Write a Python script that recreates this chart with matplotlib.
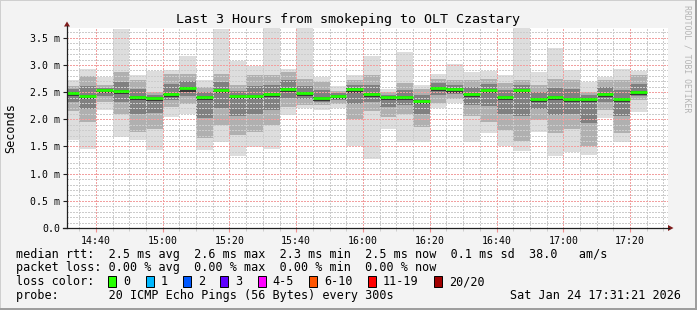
import numpy as np
import pandas as pd
import matplotlib
matplotlib.use("Agg")
import matplotlib.pyplot as plt
import matplotlib.dates as mdates
from matplotlib.patches import Rectangle, Polygon
from matplotlib.lines import Line2D
from matplotlib.ticker import MultipleLocator, FixedLocator, FuncFormatter

plt.rcParams['font.family'] = 'DejaVu Sans Mono'

# 5 minute slots (start of each ping round)
slots = pd.date_range("2026-01-24 14:30", periods=35, freq="5min")
view_start = pd.Timestamp("2026-01-24 14:31:21")
view_end = pd.Timestamp("2026-01-24 17:31:21")

# median rtt per slot, ms
median = [2.49, 2.43, 2.54, 2.52, 2.41, 2.39, 2.47, 2.57, 2.41, 2.54,
          2.43, 2.43, 2.47, 2.56, 2.49, 2.39, 2.43, 2.55, 2.47, 2.41,
          2.41, 2.34, 2.58, 2.55, 2.47, 2.54, 2.41, 2.54, 2.38, 2.41,
          2.38, 2.38, 2.47, 2.37, 2.50]
# smoke: lowest / lower band / upper band / highest ping, ms
smoke_min = [1.62, 1.45, 2.17, 1.68, 1.62, 1.43, 2.04, 2.10, 1.43, 1.59,
             1.33, 1.49, 1.46, 2.08, 2.20, 2.17, 2.21, 1.51, 1.27, 1.82,
             1.59, 1.59, 2.21, 2.30, 1.59, 1.75, 1.50, 1.42, 1.77, 1.33,
             1.40, 1.35, 2.03, 1.59, 2.14]
smoke_lo = [2.15, 1.95, 2.32, 2.10, 1.77, 1.83, 2.23, 2.29, 1.65, 1.89,
            1.71, 1.77, 1.89, 2.23, 2.26, 2.26, 2.29, 2.00, 2.15, 2.05,
            2.10, 1.85, 2.30, 2.38, 2.07, 1.95, 1.80, 1.60, 1.99, 1.75,
            1.83, 1.50, 2.17, 1.74, 2.35]
smoke_hi = [2.62, 2.80, 2.63, 2.87, 2.72, 2.50, 2.84, 2.84, 2.60, 2.84,
            2.63, 2.81, 2.81, 2.87, 2.75, 2.69, 2.53, 2.72, 2.81, 2.50,
            2.66, 2.55, 2.75, 2.72, 2.72, 2.75, 2.66, 2.72, 2.63, 2.75,
            2.72, 2.51, 2.72, 2.72, 2.81]
smoke_max = [2.72, 2.92, 2.78, 3.67, 2.82, 2.89, 2.90, 3.17, 2.72, 3.66,
             3.07, 2.98, 3.68, 2.93, 3.68, 2.78, 2.61, 2.81, 3.17, 2.56,
             3.23, 2.63, 2.84, 3.01, 2.87, 2.89, 2.82, 3.68, 2.87, 3.31,
             2.90, 2.68, 2.78, 2.92, 2.89]

loss_labels = ["0", "1", "2", "3", "4-5", "6-10", "11-19", "20/20"]
loss_colors = ["#26ff00", "#00b8ff", "#0059ff", "#5e00ff", "#ff00ff",
               "#ff5500", "#ff0000", "#a10000"]

W, H = 697, 310
def fx(x):
    return x / W
def fy(y):
    return 1 - y / H

fig = plt.figure(figsize=(W / 100, H / 100), dpi=100, facecolor="#f3f3f3")
ax = fig.add_axes([fx(67), 82 / H, 601 / W, 200 / H])
ax.set_facecolor("white")

x = mdates.date2num(slots.to_pydatetime())
w = 5 / 1440
mn, lo, hi, mx, md = map(np.array, (smoke_min, smoke_lo, smoke_hi, smoke_max, median))

# the smoke, light outside to dark around the median
ax.bar(x, mx - mn, bottom=mn, width=w, align='edge', color="#dddddd", lw=0, zorder=1)
ax.bar(x, hi - lo, bottom=lo, width=w, align='edge', color="#b0b0b0", lw=0, zorder=1)
c_lo = (lo + md) / 2
c_hi = (hi + md) / 2
ax.bar(x, c_hi - c_lo, bottom=c_lo, width=w, align='edge', color="#808080", lw=0, zorder=1)
ax.bar(x, 0.08, bottom=md - 0.06, width=w, align='edge', color="#383838", lw=0, zorder=1)
# median line
ax.hlines(md, x, x + w, colors="#20ff00", lw=2.0, zorder=3)

ax.set_xlim(mdates.date2num(view_start.to_pydatetime()), mdates.date2num(view_end.to_pydatetime()))
ax.set_ylim(0, 3.68)

ax.xaxis.set_major_locator(mdates.MinuteLocator(byminute=[0, 20, 40]))
ax.xaxis.set_minor_locator(mdates.MinuteLocator(byminute=[5, 10, 15, 25, 30, 35, 45, 50, 55]))
ax.xaxis.set_major_formatter(mdates.DateFormatter("%H:%M"))
ax.yaxis.set_major_locator(MultipleLocator(0.5))
ax.yaxis.set_minor_locator(FixedLocator([v / 10 for v in range(37) if v % 5]))
ax.yaxis.set_major_formatter(FuncFormatter(lambda v, p: "0.0" if v == 0 else f"{v:.1f} m"))

ax.set_axisbelow(False)
ax.grid(which='minor', color="#cccccc", lw=1.0, ls=(0, (1, 1.4)), antialiased=False)
ax.grid(which='major', color="#f2a0a0", lw=1.0, ls=(0, (1, 1.4)), antialiased=False)

ax.tick_params(axis='both', which='major', labelsize=7.1, pad=2)
ax.tick_params(axis='y', which='major', length=3, color="#202020")
ax.tick_params(axis='y', which='minor', length=0)
ax.tick_params(axis='x', which='major', length=3, color="#f09090", pad=3)
ax.tick_params(axis='x', which='minor', length=2, color="#c8c8c8")
for s in ax.spines.values():
    s.set_visible(False)

# axes with arrows
fig.add_artist(Line2D([fx(67), fx(67)], [fy(228), fy(26)], color="#202020", lw=0.9))
fig.add_artist(Line2D([fx(63), fx(669)], [fy(228), fy(228)], color="#202020", lw=0.9))
fig.add_artist(Polygon([(fx(64), fy(26.5)), (fx(70), fy(26.5)), (fx(67), fy(21.5))],
                       closed=True, color="#7f1c1c", lw=0))
fig.add_artist(Polygon([(fx(668), fy(225)), (fx(668), fy(231)), (fx(673.5), fy(228))],
                       closed=True, color="#7f1c1c", lw=0))

# frame
fig.add_artist(Rectangle((0, fy(1)), 1, 1 / H, transform=fig.transFigure, color="#cfcfcf", lw=0))
fig.add_artist(Rectangle((0, 0), 1 / W, 1, transform=fig.transFigure, color="#cfcfcf", lw=0))
fig.add_artist(Rectangle((0, 0), 1, 2 / H, transform=fig.transFigure, color="#9e9e9e", lw=0))
fig.add_artist(Rectangle((1 - 2 / W, 0), 2 / W, 1, transform=fig.transFigure, color="#9e9e9e", lw=0))

fig.text(fx(347.5), fy(19.5), "Last 3 Hours from smokeping to OLT Czastary",
         ha='center', va='center', fontsize=9.6)
fig.text(fx(11), fy(128), "Seconds", rotation=90, ha='center', va='center', fontsize=8.5)
fig.text(fx(687.5), fy(5), "RRDTOOL / TOBI OETIKER", rotation=270, ha='center', va='top',
         fontsize=5.9, color="#b4b4b4")

fs = 8.48
cw = 7.09
fig.text(fx(16), fy(254.3), "median rtt:  2.5 ms avg  2.6 ms max  2.3 ms min  2.5 ms now  0.1 ms sd  38.0   am/s",
         va='center', fontsize=fs)
fig.text(fx(16), fy(267.7), "packet loss: 0.00 % avg  0.00 % max  0.00 % min  0.00 % now",
         va='center', fontsize=fs)
fig.text(fx(16), fy(281.7), "loss color:", va='center', fontsize=fs)
bx = 108.3
for lab, col in zip(loss_labels, loss_colors):
    fig.add_artist(Rectangle((fx(bx), fy(286.5)), 8 / W, 11 / H, transform=fig.transFigure,
                             facecolor=col, edgecolor="black", lw=0.7))
    fig.text(fx(bx + 15), fy(281.7), lab, va='center', fontsize=fs)
    bx += 15 + len(lab) * cw + 15.3
fig.text(fx(16), fy(295.7), "probe:       20 ICMP Echo Pings (56 Bytes) every 300s",
         va='center', fontsize=fs)
fig.text(fx(681), fy(295.7), "Sat Jan 24 17:31:21 2026", ha='right', va='center', fontsize=fs)

fig.savefig("out.png", dpi=100, facecolor=fig.get_facecolor())
